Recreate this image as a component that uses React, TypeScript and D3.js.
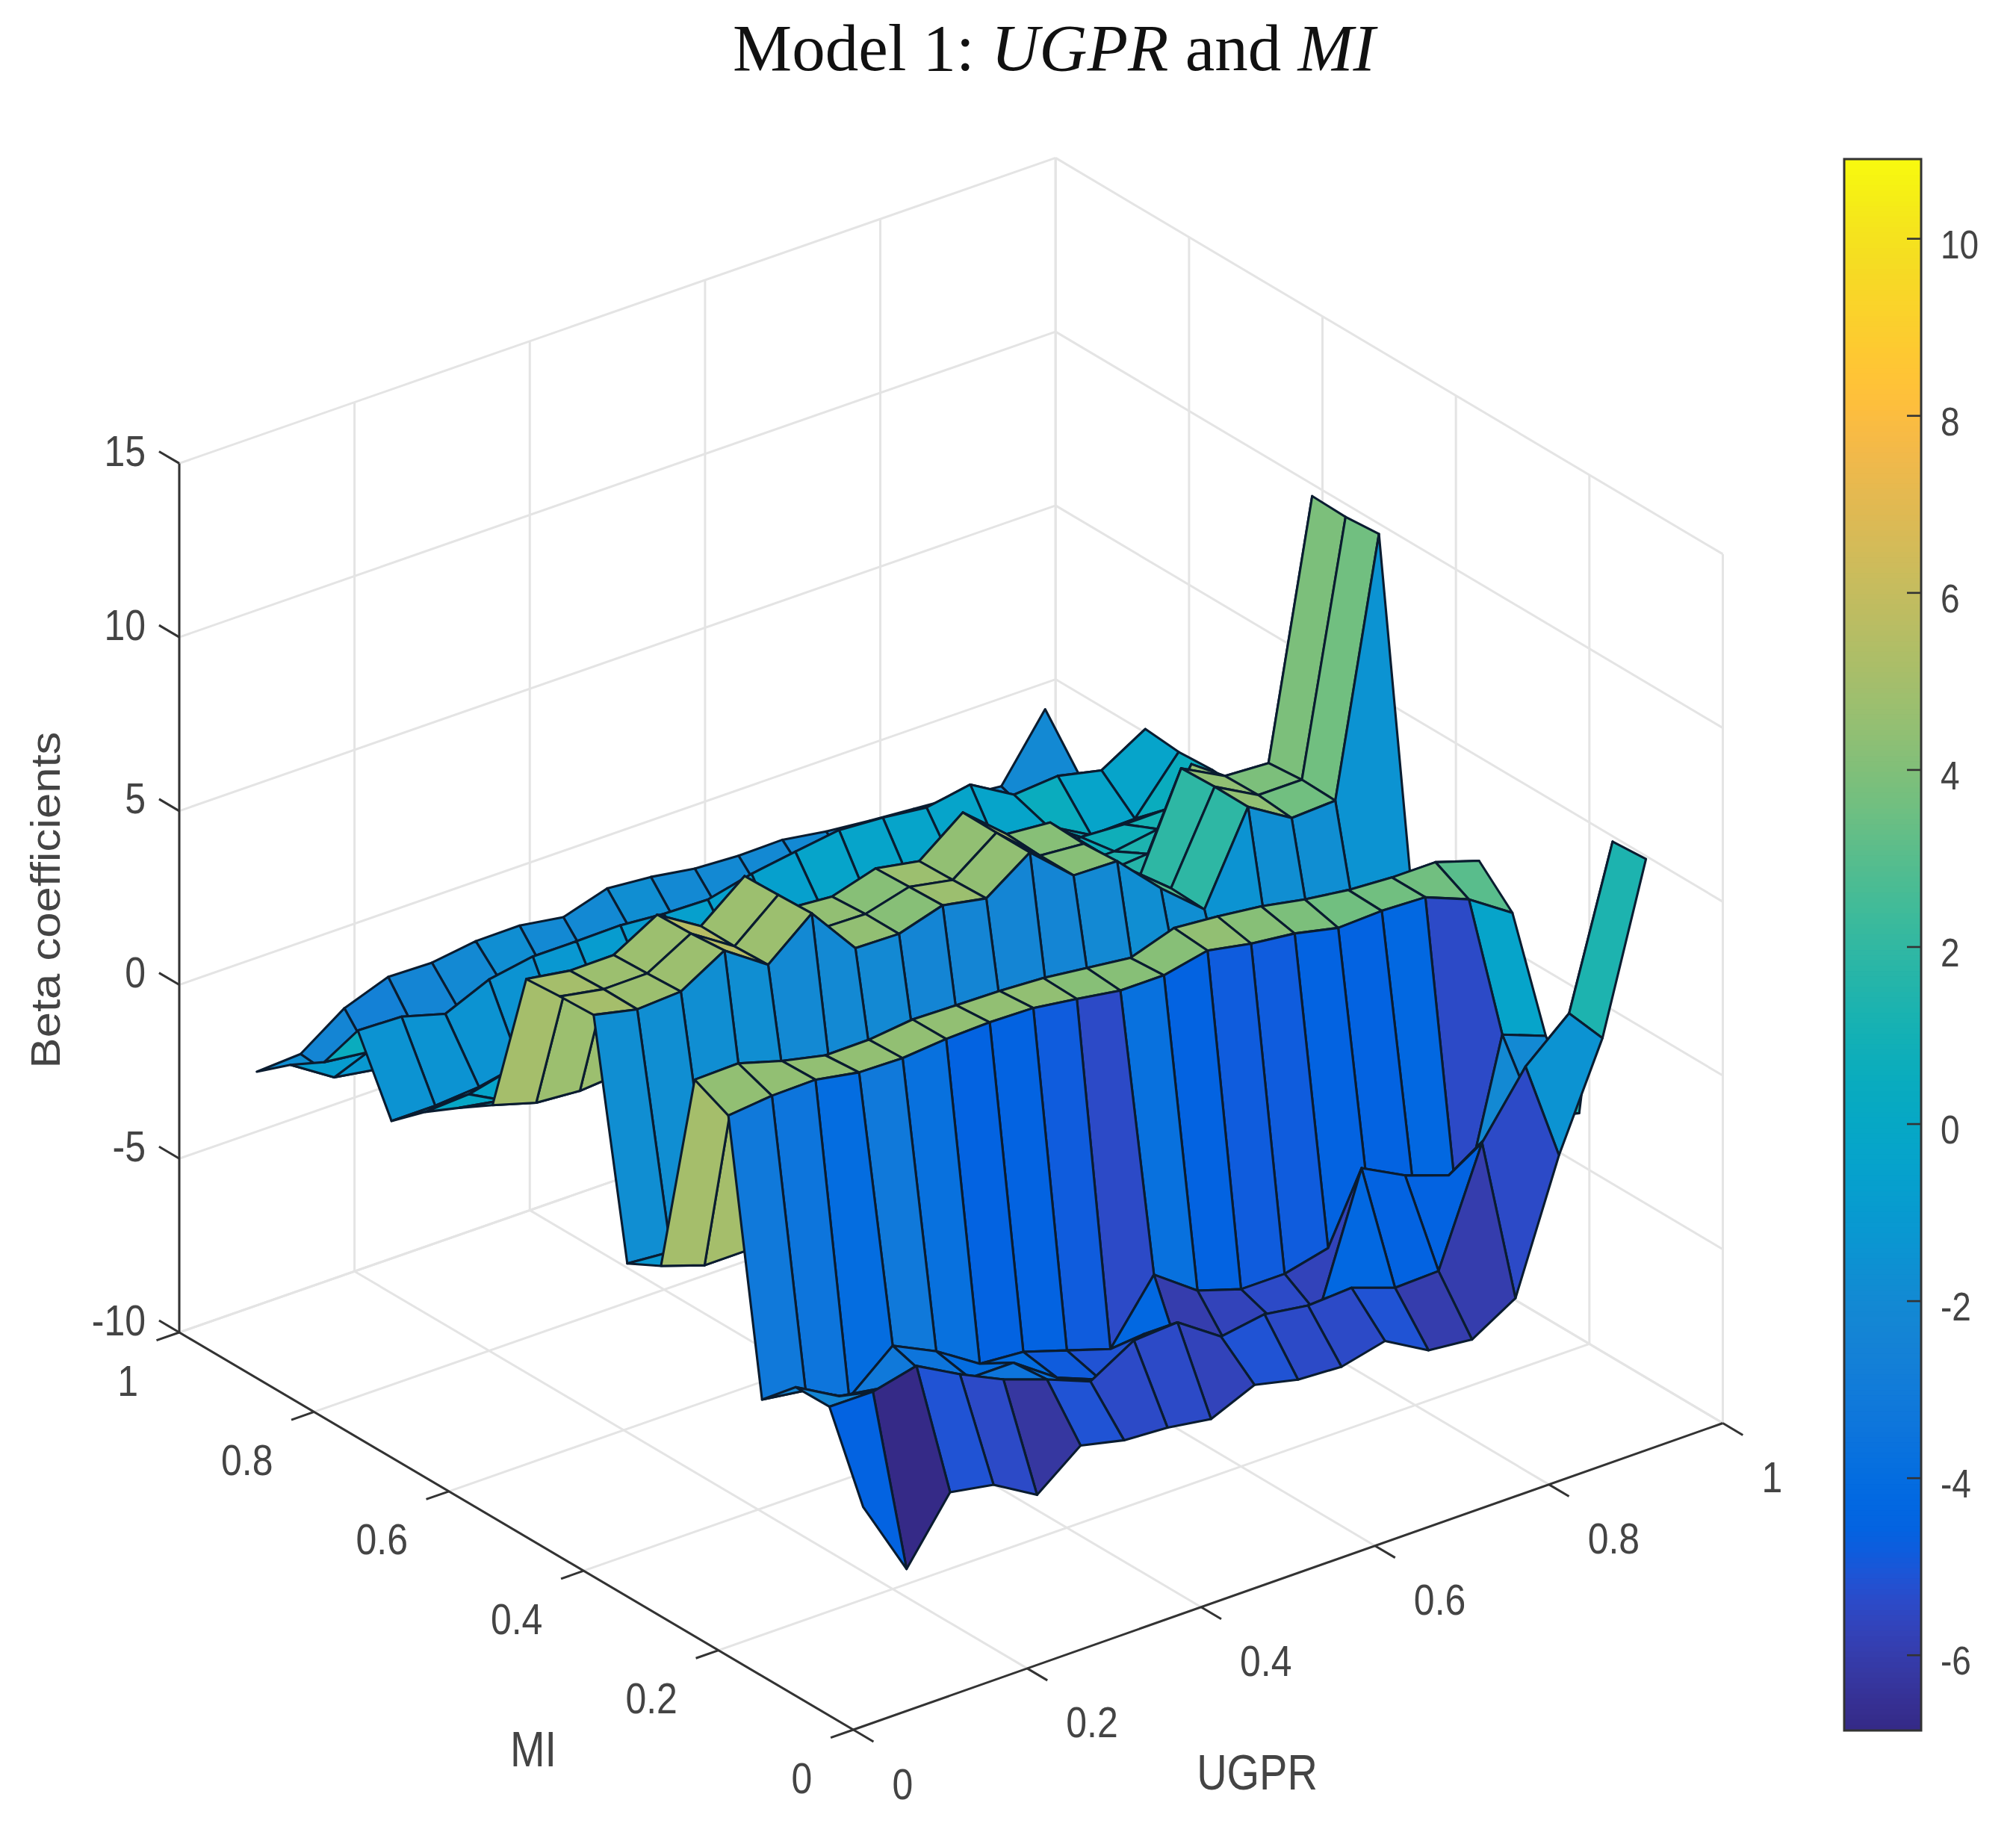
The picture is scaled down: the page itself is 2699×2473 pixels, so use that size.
import React, { useEffect, useRef } from 'react';
import * as d3 from 'd3';

// Beta coefficients, one list per MI row (MI = 0.05 ... 0.95),
// each holding the UGPR = 0.05 ... 0.95 columns.
const MI_05 = [-4.6, -6.83, -5.06, -5.29, -6.02, -5.04, -5.33, -5.41, -5.6, -5.06, -5.35, -5.42, -5.12, -5.83, -5.96, -5.21, -1.54, 1.39, 6.1];
const MI_10 = [-2.29, -2.3, -2.0, -2.68, -3.27, -3.71, -4.21, -3.47, -3.39, -4.24, -4.04, -4.23, -4.16, -4.6, -4.56, -1.31, 0.44, 1.53, 6.03];
const MI_15 = [-2.3, -3.0, -3.2, -3.3, -3.8, -3.8, -4.67, -5.17, -4.3, -6.0, -5.7, -5.25, -5.5, -1.73, -2.38, -2.82, -2.0, -2.0, -2.35];
const MI_20 = [-3.23, -3.41, -4.05, -3.0, -3.6, -4.4, -4.5, -4.9, -5.3, -3.6, -4.5, -4.9, -4.9, -4.6, -4.4, -4.2, -5.2, -0.22, -0.7];
const MI_25 = [4.37, 4.5, 4.52, 4.29, 4.26, 4.37, 4.41, 4.38, 4.2, 4.0, 4.0, 4.27, 4.03, 3.88, 3.6, 3.65, 3.6, 3.1, 2.27];
const MI_30 = [4.83, 4.86, 4.49, 4.21, 4.22, 4.36, 4.33, 4.3, 4.23, 4.08, 3.93, 4.35, 4.24, 4.09, 3.85, 3.68, 3.6, 3.6, 3.2];
const MI_35 = [-1.1, -1.52, -1.52, -1.7, -1.9, -2.1, -2.0, -2.3, -2.2, -2.4, -2.1, -1.9, -2.0, -1.7, -1.6, -1.8, -1.5, -1.3, -1.0];
const MI_40 = [-1.6, -1.7, -1.7, -1.8, -1.9, -2.0, -2.1, -2.2, -2.3, -2.4, -2.2, -2.0, -1.8, -1.6, -1.5, -1.6, -1.6, -1.5, 1.0];
const MI_45 = [4.98, 4.7, 4.77, 5.51, 4.66, 5.7, 4.26, 4.23, 4.61, 4.37, 5.25, 4.15, 4.12, 2.9, 1.85, 4.36, 3.6, 3.66, 10.89];
const MI_50 = [4.94, 4.71, 4.72, 5.43, 4.62, 5.66, 4.26, 4.23, 4.57, 4.33, 5.25, 4.15, 4.05, 2.9, 1.89, 4.37, 3.69, 3.69, 10.81];
const MI_55 = [4.87, 4.67, 4.68, 5.4, 4.63, 5.63, 4.26, 4.16, 4.53, 4.3, 5.26, 4.2, 4.09, 2.9, 1.5, 4.33, 3.67, 3.6, 10.84];
const MI_60 = [0.67, 0.3, 0.2, 0.3, 0.4, 0.5, 0.3, 0.2, 0.4, 0.3, 0.5, 0.4, 0.6, 0.9, 1.2, 1.3, 3.44, 1.5, 1.0];
const MI_65 = [0.02, -0.2, 0.1, 0, 0.1, 0.2, 0.1, 0, 0.1, 0, 0.2, 0.1, 0.3, 0.6, 0.8, 0.8, 1.0, 1.0, 1.2];
const MI_70 = [-0.67, -0.6, -0.3, -0.4, -0.2, -0.2, -0.3, -0.2, -0.1, -0.2, 0, -0.1, 0, 0.2, 0.4, 0.64, 0.57, 0.58, 1.26];
const MI_75 = [-1.5, -1.5, -1.4, -1.4, -1.2, -0.9, -0.8, -0.7, -0.6, -0.5, -0.23, -0.3, -0.3, -0.25, -0.2, 0.39, -0.31, -0.28, 1.2];
const MI_80 = [0.53, 0.49, 0.13, 0.68, 0.9, 0.9, 0.92, 0.81, 0.78, 1.08, 1.28, 1.46, 1.38, 1.23, 1.45, 0.72, 0.82, 0.54, 1.29];
const MI_85 = [-0.95, -1.1, -1.3, -1.4, -1.3, -1.2, -1.3, -1.2, -1.1, -1.2, -1.2, -1.1, -1.2, -1.1, -1.0, -1.2, -1.1, -1.2, -0.51];
const MI_90 = [-1.6, -2.4, -2.6, -2.3, -2.1, -1.8, -2.0, -2.1, -1.75, -1.9, -2.0, -2.0, -1.9, -2.0, -2.0, -1.9, -2.0, -2.0, -1.13];
const MI_95 = [-2.37, -2.3, -1.42, -0.96, -0.99, -0.81, -0.8, -1, -0.61, -0.72, -0.92, -0.99, -0.97, -1.17, -1.3, -1.4, -1.5, -1.63, 0.15];
const BETA: number[][] = [MI_05, MI_10, MI_15, MI_20, MI_25, MI_30, MI_35, MI_40, MI_45, MI_50, MI_55, MI_60, MI_65, MI_70, MI_75, MI_80, MI_85, MI_90, MI_95];

const GRID_VALUES = [0.05, 0.1, 0.15, 0.2, 0.25, 0.3, 0.35, 0.4, 0.45, 0.5, 0.55, 0.6, 0.65, 0.7, 0.75, 0.8, 0.85, 0.9, 0.95];
const AXIS_TICKS = [0, 0.2, 0.4, 0.6, 0.8, 1];
const AXIS_LABELS = ['0', '0.2', '0.4', '0.6', '0.8', '1'];
const Z_TICKS = [-10, -5, 0, 5, 10, 15];
const BAR_TICKS = [-6, -4, -2, 0, 2, 4, 6, 8, 10];
const C_MIN = -6.85;
const C_MAX = 10.9;

// MATLAB parula, 64 levels
const PARULA = [
  [0.2081, 0.1663, 0.5292], [0.2116, 0.1898, 0.5777], [0.2123, 0.2138, 0.627], [0.2081, 0.2386, 0.6771],
  [0.1959, 0.2645, 0.7279], [0.1707, 0.2919, 0.7792], [0.1253, 0.3242, 0.8303], [0.0591, 0.3598, 0.8683],
  [0.0117, 0.3875, 0.882], [0.006, 0.4086, 0.8828], [0.0165, 0.4266, 0.8786], [0.0329, 0.443, 0.872],
  [0.0498, 0.4586, 0.8641], [0.0629, 0.4737, 0.8554], [0.0723, 0.4887, 0.8467], [0.0779, 0.504, 0.8384],
  [0.0793, 0.52, 0.8312], [0.0749, 0.5375, 0.8263], [0.0641, 0.557, 0.824], [0.0488, 0.5772, 0.8228],
  [0.0343, 0.5966, 0.8199], [0.0265, 0.6137, 0.8135], [0.0239, 0.6287, 0.8038], [0.0231, 0.6418, 0.7913],
  [0.0228, 0.6535, 0.7768], [0.0267, 0.6642, 0.7607], [0.0384, 0.6743, 0.7436], [0.059, 0.6838, 0.7254],
  [0.0843, 0.6928, 0.7062], [0.1133, 0.7015, 0.6859], [0.1453, 0.7098, 0.6646], [0.1801, 0.7177, 0.6424],
  [0.2178, 0.725, 0.6193], [0.2586, 0.7317, 0.5954], [0.3022, 0.7376, 0.5712], [0.3482, 0.7424, 0.5473],
  [0.3953, 0.7459, 0.5244], [0.442, 0.7481, 0.5033], [0.4871, 0.7491, 0.484], [0.53, 0.7491, 0.4661],
  [0.5709, 0.7485, 0.4494], [0.6099, 0.7473, 0.4337], [0.6473, 0.7456, 0.4188], [0.6834, 0.7435, 0.4044],
  [0.7184, 0.7411, 0.3905], [0.7525, 0.7384, 0.3768], [0.7858, 0.7356, 0.3633], [0.8185, 0.7327, 0.3498],
  [0.8507, 0.7299, 0.336], [0.8824, 0.7274, 0.3217], [0.9139, 0.7258, 0.3063], [0.945, 0.7261, 0.2886],
  [0.9739, 0.7314, 0.2666], [0.9938, 0.7455, 0.2403], [0.999, 0.7653, 0.2164], [0.9955, 0.7861, 0.1967],
  [0.988, 0.8066, 0.1794], [0.9789, 0.8271, 0.1633], [0.9697, 0.8481, 0.1475], [0.9626, 0.8705, 0.1309],
  [0.9589, 0.8949, 0.1132], [0.9598, 0.9218, 0.0948], [0.9661, 0.9514, 0.0755], [0.9763, 0.9831, 0.0538],
];

const WIDTH = 2699;
const HEIGHT = 2473;
const FRONT = [1142.4, 2316];
const LEFT = [240, 1784];
const RIGHT = [2306.5, 1905.5];
const BACK = [1413.2, 1375];
const TEXT = '#444444';
const SANS = '"Liberation Sans", Arial, sans-serif';

export default function App() {
  const svgRef = useRef<SVGSVGElement>(null);

  useEffect(() => {
    const svg = d3.select(svgRef.current);
    svg.selectAll('*').remove();

    const zLift = d3.scaleLinear().domain([-10, 15]).range([0, 1163.6]);
    const project = (u: number, m: number, z: number): [number, number] => {
      const px = (1 - u) * (1 - m) * FRONT[0] + u * (1 - m) * RIGHT[0] + (1 - u) * m * LEFT[0] + u * m * BACK[0];
      const py = (1 - u) * (1 - m) * FRONT[1] + u * (1 - m) * RIGHT[1] + (1 - u) * m * LEFT[1] + u * m * BACK[1];
      return [px, py - zLift(z)];
    };
    const line = d3.line();

    const hexes = PARULA.map(([r, g, b]) => d3.rgb(r * 255, g * 255, b * 255).formatHex());
    const faceColor = d3.scaleQuantize<string>().domain([C_MIN, C_MAX]).range(hexes);
    const barColor = d3.scaleLinear<string>()
      .domain(hexes.map((_, k) => C_MIN + (k / (hexes.length - 1)) * (C_MAX - C_MIN)))
      .range(hexes);

    const stretched = (txt: string, x: number, y: number, size: number, anchor: string, sy = 1.15) => {
      svg.append('text')
        .attr('transform', `translate(${x},${y + 0.358 * size * sy}) scale(1,${sy})`)
        .attr('text-anchor', anchor)
        .style('font-family', SANS).style('font-size', `${size}px`).style('fill', TEXT)
        .text(txt);
    };

    // Title
    const title = svg.append('text').attr('x', 981).attr('y', 94)
      .style('font-family', '"Liberation Serif", serif').style('font-size', '89px').style('fill', '#111');
    title.append('tspan').text('Model 1: ');
    title.append('tspan').style('font-style', 'italic').text('UGPR');
    title.append('tspan').text(' and ');
    title.append('tspan').style('font-style', 'italic').text('MI');

    // Grid on the floor and the two back walls
    const grid = svg.append('g').attr('fill', 'none').attr('stroke', '#e4e4e4').attr('stroke-width', 3);
    const seg = (a: [number, number], b: [number, number]) => grid.append('path').attr('d', line([a, b]));
    AXIS_TICKS.forEach(t => {
      seg(project(t, 0, -10), project(t, 1, -10));
      seg(project(0, t, -10), project(1, t, -10));
      seg(project(t, 1, -10), project(t, 1, 15));
      seg(project(1, t, -10), project(1, t, 15));
    });
    Z_TICKS.forEach(z => {
      seg(project(0, 1, z), project(1, 1, z));
      seg(project(1, 1, z), project(1, 0, z));
    });

    // Surface, painted from the back corner towards the viewer
    const surface = svg.append('g').attr('stroke', '#0a1c30').attr('stroke-width', 3.1).attr('stroke-linejoin', 'round');
    for (let i = GRID_VALUES.length - 2; i >= 0; i--) {
      for (let j = GRID_VALUES.length - 2; j >= 0; j--) {
        const u0 = GRID_VALUES[i];
        const u1 = GRID_VALUES[i + 1];
        const m0 = GRID_VALUES[j];
        const m1 = GRID_VALUES[j + 1];
        const corners = [
          project(u0, m0, BETA[j][i]),
          project(u1, m0, BETA[j][i + 1]),
          project(u1, m1, BETA[j + 1][i + 1]),
          project(u0, m1, BETA[j + 1][i]),
        ];
        surface.append('path').attr('d', `${line(corners)}Z`).attr('fill', faceColor(BETA[j][i]));
      }
    }

    // Axes
    const axes = svg.append('g').attr('fill', 'none').attr('stroke', '#333333').attr('stroke-width', 3);
    const axis = (a: [number, number], b: [number, number]) => axes.append('path').attr('d', line([a, b]));
    axis(project(0, 0, -10), project(0, 1, -10));
    axis(project(0, 0, -10), project(1, 0, -10));
    axis(project(0, 1, -10), project(0, 1, 15));

    AXIS_TICKS.forEach((t, k) => {
      axis(project(0, t, -10), project(-0.026, t, -10));
      axis(project(t, 0, -10), project(t, -0.03, -10));
      const [mx, my] = project(0, t, -10);
      stretched(AXIS_LABELS[k], mx - 55, my + 64, 50, 'end');
      const [ux, uy] = project(t, 0, -10);
      stretched(AXIS_LABELS[k], ux + 52, uy + 72, 50, 'start');
    });
    Z_TICKS.forEach(z => {
      axis(project(0, 1, z), project(0, 1.03, z));
      const [, zy] = project(0, 1, z);
      stretched(String(z), 195, zy - 17, 50, 'end');
    });

    // Axis titles
    stretched('MI', 714, 2341, 56, 'middle', 1.18);
    stretched('UGPR', 1683, 2372, 56, 'middle', 1.18);
    svg.append('text')
      .attr('transform', 'translate(80,1205) scale(1,1.1) rotate(-90)')
      .attr('text-anchor', 'middle')
      .style('font-family', SANS).style('font-size', '56px').style('fill', TEXT)
      .text('Beta coefficients');

    // Colour bar
    const barX = 2469;
    const barW = 103;
    const barY = d3.scaleLinear().domain([C_MIN, C_MAX]).range([2317, 213]);
    const levels = d3.range(C_MIN, C_MAX, (C_MAX - C_MIN) / 300);
    const bar = svg.append('g');
    levels.forEach(v => {
      bar.append('rect')
        .attr('x', barX).attr('width', barW)
        .attr('y', barY(v) - 8).attr('height', 8)
        .attr('fill', barColor(v));
    });
    bar.append('rect').attr('x', barX).attr('y', 213).attr('width', barW).attr('height', 2104)
      .attr('fill', 'none').attr('stroke', '#333333').attr('stroke-width', 3);
    BAR_TICKS.forEach(v => {
      bar.append('line').attr('x1', barX + barW - 19).attr('x2', barX + barW)
        .attr('y1', barY(v)).attr('y2', barY(v)).attr('stroke', '#333333').attr('stroke-width', 2.6);
      stretched(String(v), barX + barW + 26, barY(v) + 7, 46, 'start');
    });
  }, []);

  return (
    <svg
      ref={svgRef}
      width={WIDTH}
      height={HEIGHT}
      viewBox={`0 0 ${WIDTH} ${HEIGHT}`}
      style={{ position: 'absolute', left: 0, top: 0, display: 'block', background: 'white' }}
    />
  );
}
